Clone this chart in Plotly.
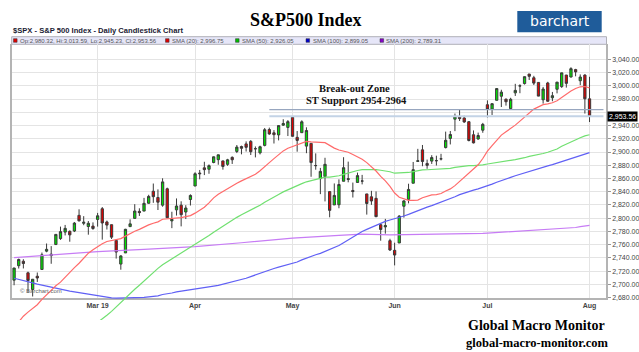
import plotly.graph_objects as go

# ---------------- data ----------------
dates = [
 "2019-02-04","2019-02-05","2019-02-06","2019-02-07","2019-02-08","2019-02-11","2019-02-12","2019-02-13","2019-02-14","2019-02-15",
 "2019-02-19","2019-02-20","2019-02-21","2019-02-22","2019-02-25","2019-02-26","2019-02-27","2019-02-28",
 "2019-03-01","2019-03-04","2019-03-05","2019-03-06","2019-03-07","2019-03-08","2019-03-11","2019-03-12","2019-03-13","2019-03-14",
 "2019-03-15","2019-03-18","2019-03-19","2019-03-20","2019-03-21","2019-03-22","2019-03-25","2019-03-26","2019-03-27","2019-03-28","2019-03-29",
 "2019-04-01","2019-04-02","2019-04-03","2019-04-04","2019-04-05","2019-04-08","2019-04-09","2019-04-10","2019-04-11","2019-04-12",
 "2019-04-15","2019-04-16","2019-04-17","2019-04-18","2019-04-22","2019-04-23","2019-04-24","2019-04-25","2019-04-26","2019-04-29","2019-04-30",
 "2019-05-01","2019-05-02","2019-05-03","2019-05-06","2019-05-07","2019-05-08","2019-05-09","2019-05-10","2019-05-13","2019-05-14",
 "2019-05-15","2019-05-16","2019-05-17","2019-05-20","2019-05-21","2019-05-22","2019-05-23","2019-05-24","2019-05-28","2019-05-29","2019-05-30","2019-05-31",
 "2019-06-03","2019-06-04","2019-06-05","2019-06-06","2019-06-07","2019-06-10","2019-06-11","2019-06-12","2019-06-13","2019-06-14",
 "2019-06-17","2019-06-18","2019-06-19","2019-06-20","2019-06-21","2019-06-24","2019-06-25","2019-06-26","2019-06-27","2019-06-28",
 "2019-07-01","2019-07-02","2019-07-03","2019-07-05","2019-07-08","2019-07-09","2019-07-10","2019-07-11","2019-07-12","2019-07-15",
 "2019-07-16","2019-07-17","2019-07-18","2019-07-19","2019-07-22","2019-07-23","2019-07-24","2019-07-25","2019-07-26","2019-07-29","2019-07-30","2019-07-31",
 "2019-08-01"]

opens = [
 2706.49,2728.34,2735.05,2717.53,2692.36,2712.40,2722.61,2750.30,2743.50,2760.24,2769.28,2779.05,2780.24,2780.67,2804.35,2792.36,2787.50,2788.11,
 2798.22,2814.37,2794.41,2790.27,2766.53,2730.79,2747.61,2787.34,2799.78,2810.38,2810.79,2822.61,2840.76,2831.34,2819.72,2844.52,2796.01,2812.66,2819.72,2809.40,2828.27,
 2848.63,2868.24,2876.09,2873.99,2884.16,2888.46,2886.58,2881.37,2891.92,2900.86,2908.32,2912.26,2916.04,2904.81,2898.78,2909.99,2934.00,2928.99,2925.81,2940.58,2937.14,
 2952.33,2922.16,2929.21,2908.89,2913.03,2879.61,2859.84,2863.10,2840.19,2820.12,2820.38,2855.80,2858.60,2841.94,2854.02,2856.06,2836.70,2832.41,2830.03,2790.25,2786.94,2766.15,
 2751.53,2762.64,2818.09,2828.51,2852.87,2885.83,2903.27,2882.73,2886.24,2886.82,2889.75,2906.71,2920.55,2949.60,2952.71,2951.42,2945.78,2926.07,2919.66,2932.94,
 2971.41,2964.66,2978.08,2984.25,2979.77,2965.52,2989.30,2999.62,3003.36,3017.80,3012.13,3005.10,2978.87,3004.26,2981.93,2994.74,2998.77,3016.26,3013.25,3024.47,3007.66,3016.22,
 2980.32]

highs = [
 2724.99,2738.98,2738.08,2719.32,2708.07,2718.05,2748.19,2761.85,2757.90,2775.66,2787.33,2789.88,2781.58,2794.20,2813.49,2803.12,2795.76,2793.73,
 2808.02,2816.88,2796.44,2790.27,2767.25,2744.13,2784.00,2798.32,2821.24,2815.00,2830.73,2835.41,2852.42,2843.54,2860.31,2846.16,2809.79,2829.87,2825.56,2819.71,2836.03,
 2869.40,2872.90,2885.25,2881.28,2893.24,2895.95,2886.88,2889.71,2893.42,2910.54,2909.60,2916.06,2918.00,2908.40,2909.51,2936.31,2936.83,2933.10,2939.88,2949.52,2948.22,
 2954.13,2931.68,2947.85,2937.32,2913.03,2897.96,2875.97,2891.31,2840.19,2852.54,2858.68,2892.15,2885.48,2853.86,2868.88,2865.47,2836.70,2841.36,2840.51,2792.03,2799.00,2768.98,
 2763.07,2804.49,2827.28,2852.10,2884.97,2904.77,2910.61,2888.57,2895.24,2894.45,2897.27,2930.79,2931.74,2958.06,2964.15,2954.92,2946.52,2932.59,2929.30,2943.98,
 2977.93,2973.21,2995.84,2994.03,2980.76,2981.90,3002.98,3002.33,3013.92,3017.80,3015.02,3005.26,2998.28,3006.02,2990.71,3005.90,3019.59,3016.31,3027.98,3025.61,3017.19,3017.40,
 3013.59]

lows = [
 2698.75,2724.03,2724.15,2687.26,2681.83,2703.79,2722.61,2748.63,2731.23,2760.24,2767.29,2774.06,2764.55,2779.11,2794.99,2789.47,2775.13,2782.51,
 2787.38,2767.66,2782.97,2768.69,2739.09,2722.27,2747.61,2786.73,2799.78,2803.46,2810.79,2821.99,2823.27,2812.43,2817.38,2800.47,2785.02,2803.99,2787.72,2798.77,2819.23,
 2848.63,2858.75,2865.17,2867.14,2882.99,2880.78,2873.33,2879.13,2881.99,2898.37,2896.48,2900.71,2895.45,2891.90,2896.35,2908.53,2926.05,2912.84,2917.56,2939.35,2924.11,
 2923.36,2900.50,2929.21,2898.21,2862.60,2873.28,2836.40,2825.39,2801.43,2820.12,2815.08,2855.80,2854.23,2831.29,2854.02,2851.11,2805.49,2820.19,2801.58,2766.06,2776.74,2750.52,
 2728.81,2762.64,2800.92,2822.45,2852.87,2885.51,2878.53,2874.68,2881.99,2879.62,2887.30,2905.44,2911.43,2931.50,2946.87,2944.05,2916.01,2912.99,2918.57,2929.05,
 2952.22,2955.92,2977.96,2967.97,2970.09,2963.44,2984.62,2988.80,3001.87,3008.77,3001.15,2984.25,2973.09,2975.86,2976.65,2988.56,2996.82,2997.24,3012.59,3014.30,3000.94,2958.08,
 2945.23]

closes = [
 2724.87,2737.70,2731.61,2706.05,2707.88,2709.80,2744.73,2753.03,2745.73,2775.60,2779.76,2784.70,2774.88,2792.67,2796.11,2793.90,2792.38,2784.49,
 2803.69,2792.81,2789.65,2771.45,2748.93,2743.07,2783.30,2791.52,2810.92,2808.48,2822.48,2832.94,2832.57,2824.23,2854.88,2800.71,2798.36,2818.46,2805.37,2815.44,2834.40,
 2867.19,2867.24,2873.40,2879.39,2892.74,2895.77,2878.20,2888.21,2888.32,2907.41,2905.58,2907.06,2900.45,2905.03,2907.97,2933.68,2927.25,2926.17,2939.88,2943.03,2945.83,
 2923.73,2917.52,2945.64,2932.47,2884.05,2879.42,2870.72,2881.40,2811.87,2834.41,2850.96,2876.32,2859.53,2840.23,2864.36,2856.27,2822.24,2826.06,2802.39,2783.02,2788.86,2752.06,
 2744.45,2803.27,2826.15,2843.49,2873.34,2886.73,2885.72,2879.84,2891.64,2886.98,2889.67,2917.75,2926.46,2954.18,2950.46,2945.35,2917.38,2913.78,2924.92,2941.76,
 2964.33,2973.01,2995.82,2990.41,2975.95,2979.63,2993.07,2999.91,3013.77,3014.30,3004.04,2984.42,2995.11,2976.61,2985.03,3005.47,3019.56,3003.67,3025.86,3020.97,3013.18,2980.38,
 2953.56]

sma20 = [
 2634.8,2644.2,2652.1,2658.2,2663.7,2669.4,2677.5,2684.6,2691.1,2698.1,2703.5,2711.1,2717.9,2725.5,2732.0,2739.5,2747.2,2752.3,
 2757.3,2761.6,2764.9,2766.5,2767.4,2769.3,2773.0,2777.1,2780.4,2783.2,2787.0,2789.9,2792.5,2794.5,2798.5,2798.9,2799.0,2800.3,2800.9,2802.5,2804.0,
 2807.7,2811.6,2816.7,2823.2,2830.7,2836.3,2840.7,2844.5,2848.5,2852.8,2856.4,2860.1,2863.9,2866.4,2871.8,2878.6,2884.0,2890.0,2896.3,2901.7,2905.6,
 2908.5,2910.7,2914.0,2916.0,2915.4,2915.4,2914.6,2914.2,2909.4,2905.9,2903.1,2901.9,2899.6,2896.2,2892.7,2889.2,2884.0,2878.3,2871.3,2863.1,2856.4,2848.1,
 2838.1,2831.6,2828.7,2826.9,2827.0,2827.3,2831.0,2833.3,2835.3,2835.8,2837.3,2841.2,2844.3,2849.2,2855.6,2861.6,2867.3,2873.9,2880.7,2890.2,
 2901.2,2909.6,2918.1,2925.5,2930.6,2935.3,2940.6,2946.6,2952.7,2959.1,2964.8,2968.1,2971.6,2972.7,2974.4,2977.4,2982.5,2987.0,2992.1,2996.0,2998.5,2998.9,
 2996.75]

sma50_dates = dates[18:]
sma50 = [
 2642.8,2647.7,2653.4,2659.4,2666.1,2673.9,2680.2,2686.3,2692.8,2698.8,2705.1,2712.8,2718.8,2724.3,2729.9,2734.2,2738.2,2742.7,2747.1,2751.2,2755.6,
 2760.2,2764.2,2769.0,2773.8,2778.8,2783.4,2788.1,2793.1,2797.2,2801.3,2805.3,2808.9,2812.2,2815.6,2819.7,2824.2,2828.5,2832.2,2835.9,2839.8,2843.2,
 2846.1,2848.8,2852.2,2855.0,2856.8,2858.5,2860.0,2862.0,2862.1,2863.0,2864.2,2866.3,2868.5,2870.4,2872.1,2873.4,2873.6,2873.9,2873.5,2872.5,2871.7,2870.2,
 2868.0,2868.1,2868.6,2869.1,2870.5,2871.9,2872.9,2873.2,2873.7,2873.9,2874.1,2874.6,2875.3,2876.8,2878.0,2879.2,2879.4,2879.5,2879.9,2880.7,
 2881.9,2883.2,2884.4,2885.7,2886.7,2887.5,2888.5,2889.6,2891.4,2893.3,2894.5,2895.5,2897.7,2899.7,2902.0,2904.5,2908.6,2912.0,2915.5,2918.4,2921.5,2924.3,
 2926.05]

sma100 = [
 2709.4,2707.9,2706.3,2704.3,2702.3,2700.5,2698.9,2697.4,2695.5,2694.0,2692.6,2691.3,2690.0,2688.8,2687.6,2686.3,2685.0,2683.6,
 2682.6,2681.7,2680.7,2679.6,2679.3,2679.4,2679.6,2680.0,2680.0,2680.0,2680.5,2681.2,2681.9,2682.8,2684.8,2685.7,2687.1,2688.9,2690.1,2691.1,2692.1,
 2693.5,2694.8,2696.0,2696.6,2697.5,2698.6,2700.2,2701.8,2703.7,2705.5,2707.2,2709.3,2711.9,2714.5,2717.2,2719.8,2722.3,2724.1,2726.1,2727.9,2729.5,
 2731.7,2733.9,2737.1,2740.0,2742.5,2744.8,2747.0,2749.8,2752.5,2755.4,2758.8,2762.9,2767.3,2772.2,2776.2,2779.9,2783.2,2786.4,2789.3,2792.7,2795.3,2797.3,
 2799.0,2801.2,2803.4,2805.9,2808.8,2811.6,2814.3,2816.7,2819.0,2821.5,2824.0,2826.7,2829.4,2832.5,2835.6,2838.2,2840.4,2842.4,2844.4,2846.5,
 2848.8,2851.5,2854.3,2857.1,2859.5,2861.7,2864.2,2866.4,2868.8,2871.1,2873.4,2875.3,2877.3,2879.1,2881.0,2883.3,2885.4,2887.5,2889.9,2892.4,2895.0,2897.4,
 2899.05]

sma200_dates = [
 "2019-02-04","2019-02-15","2019-03-01","2019-03-15","2019-04-01","2019-04-15","2019-05-01","2019-05-15","2019-05-22","2019-05-31",
 "2019-06-07","2019-06-17","2019-06-21","2019-06-27","2019-06-28","2019-07-01","2019-07-02","2019-07-03","2019-07-05","2019-07-08",
 "2019-07-09","2019-07-10","2019-07-11","2019-07-12","2019-07-15","2019-07-16","2019-07-17","2019-07-18","2019-07-19","2019-07-22",
 "2019-07-23","2019-07-24","2019-07-25","2019-07-26","2019-07-29","2019-07-30","2019-07-31","2019-08-01"]
sma200 = [
 2740.6,2745.0,2749.5,2753.0,2757.0,2763.0,2770.0,2774.0,2776.0,2775.0,
 2775.3,2775.8,2776.3,2776.9,2777.2,2777.5,2777.9,2778.3,2778.8,2779.2,
 2779.6,2779.8,2780.2,2780.7,2781.2,2781.7,2782.0,2782.4,2782.7,2783.0,
 2783.4,2784.0,2784.6,2785.3,2786.0,2787.2,2788.4,2789.31]

month_ticks = ["2019-03-01", "2019-04-01", "2019-05-01", "2019-06-03", "2019-07-01", "2019-08-01"]
month_labels = ["Mar 19", "Apr", "May", "Jun", "Jul", "Aug"]
y_ticks = [2680, 2700, 2720, 2740, 2760, 2780, 2800, 2820, 2840, 2860, 2880, 2900,
           2920, 2940, 2960, 2980, 3000, 3020, 3040]
y_labels = ["" if v == 2960 else f"{v:,.2f}" for v in y_ticks]

zone_low, zone_high = 2954, 2964
zone_start = "2019-04-24"
last_price = closes[-1]

legend_items = [
    ("Op:2,980.32, Hi:3,013.59, Lo:2,945.23, Cl:2,953.56", "#dd0000", 13.5),
    ("SMA (20): 2,996.75", "#dd0000", 165.5),
    ("SMA (50): 2,926.05", "#00bb00", 235.5),
    ("SMA (100): 2,899.05", "#0000cc", 306.0),
    ("SMA (200): 2,789.31", "#8800cc", 380.0),
]

# ---------------- geometry helpers ----------------
W, H = 639, 352
L, R, T, B = 12, 33, 44, 32
PW, PH = W - L - R, H - T - B
def px(x):
    return (x - L) / PW
def py(y):
    return (H - B - y) / PH

Y_BOTTOM_PX = 297.7
scale = (Y_BOTTOM_PX - 59.3) / 360.0
y_top_val = 2680 + (Y_BOTTOM_PX - T) / scale
y2_bottom_val = 2680 - (H - B - Y_BOTTOM_PX) / scale
x_range = [-0.45, 127.55]

SERIF = "Liberation Serif, Times New Roman, serif"

fig = go.Figure()

fig.add_trace(go.Candlestick(
    x=dates, open=opens, high=highs, low=lows, close=closes,
    increasing=dict(fillcolor="#00e400", line=dict(color="#3a3a3a", width=1)),
    decreasing=dict(fillcolor="#e00000", line=dict(color="#3a3a3a", width=1)),
    whiskerwidth=0, xaxis="x", yaxis="y", showlegend=False, hoverinfo="skip"))

for xs, ys, col in [(sma200_dates, sma200, "#c77cf5"),
                    (dates, sma100, "#6060f5"),
                    (sma50_dates, sma50, "#70e070"),
                    (dates, sma20, "#ff6a6a")]:
    fig.add_trace(go.Scatter(x=xs, y=ys, mode="lines", line=dict(color=col, width=1.2),
                             xaxis="x2", yaxis="y2", showlegend=False, hoverinfo="skip"))

fig.update_layout(
    width=W, height=H, margin=dict(l=L, r=R, t=T, b=B, autoexpand=False),
    paper_bgcolor="white", plot_bgcolor="rgba(0,0,0,0)",
    font=dict(family="Liberation Sans, Arial, sans-serif", color="#333"),
    hovermode=False, showlegend=False,
    xaxis=dict(type="category", categoryarray=dates, categoryorder="array",
               range=x_range, domain=[0, 1], anchor="y", automargin=False,
               tickmode="array", tickvals=month_ticks,
               ticktext=[f"<b>{t}</b>" for t in month_labels],
               tickfont=dict(size=7, color="#444"), ticks="",
               showgrid=True, gridcolor="#e4e4e4", gridwidth=1,
               showline=True, linecolor="#b4b4b4", linewidth=1.5,
               rangeslider=dict(visible=False), fixedrange=True),
    yaxis=dict(domain=[py(Y_BOTTOM_PX), 1], range=[2680, y_top_val], anchor="x",
               side="right", automargin=False,
               tickmode="array", tickvals=y_ticks, ticktext=y_labels,
               tickfont=dict(size=7, color="#444"), ticks="outside", ticklen=3,
               tickcolor="#999", showgrid=True, gridcolor="#e4e4e4", gridwidth=1,
               showline=True, mirror=True, linecolor="#b4b4b4", linewidth=1.5,
               zeroline=False, fixedrange=True),
    xaxis2=dict(type="category", categoryarray=dates, categoryorder="array",
                range=x_range, domain=[0, 1], anchor="y2", visible=False,
                automargin=False, fixedrange=True),
    yaxis2=dict(domain=[0, 1], range=[y2_bottom_val, y_top_val], anchor="x2",
                visible=False, automargin=False, fixedrange=True),
)

shapes = []
# legend bar
shapes.append(dict(type="rect", xref="paper", yref="paper",
                   x0=px(11.7), x1=px(606.5), y0=py(44.3), y1=py(36.7),
                   fillcolor="#e6e6f8", line=dict(color="#b0b0b8", width=1), layer="below"))
for text, col, x0 in legend_items:
    shapes.append(dict(type="rect", xref="paper", yref="paper",
                       x0=px(x0), x1=px(x0 + 3.6), y0=py(42.3), y1=py(38.7),
                       fillcolor=col, line=dict(color="#333", width=0.5)))
# break-out zone lines
shapes.append(dict(type="line", xref="x", yref="y", x0=zone_start, x1=127.0,
                   y0=zone_low, y1=zone_low, line=dict(color="#c3d3e6", width=2.2)))
shapes.append(dict(type="line", xref="x", yref="y", x0=zone_start, x1=127.0,
                   y0=zone_high, y1=zone_high, line=dict(color="#97a6bf", width=1.3)))
# barchart logo
shapes.append(dict(type="rect", xref="paper", yref="paper",
                   x0=px(517.3), x1=px(601.7), y0=py(32.3), y1=py(11),
                   fillcolor="#1f5c9a", line=dict(width=0)))

annotations = []
annotations.append(dict(text="<b>S&P500 Index</b>", xref="paper", yref="paper",
                        x=px(306), y=py(20), xanchor="center", yanchor="middle", showarrow=False,
                        font=dict(family=SERIF, size=18, color="#000")))
annotations.append(dict(text="<b>$SPX - S&P 500 Index - Daily Candlestick Chart</b>", xref="paper", yref="paper",
                        x=px(11), y=py(30.7), xanchor="left", yanchor="middle", showarrow=False,
                        font=dict(size=7.6, color="#1a1a33")))
for text, col, x0 in legend_items:
    annotations.append(dict(text=text, xref="paper", yref="paper",
                            x=px(x0 + 4.5), y=py(40.6), xanchor="left", yanchor="middle",
                            showarrow=False, font=dict(size=6, color="#555")))
annotations.append(dict(text="barchart", xref="paper", yref="paper",
                        x=px(559.5), y=py(21.5), xanchor="center", yanchor="middle", showarrow=False,
                        font=dict(family="DejaVu Sans, sans-serif", size=14, color="white")))
annotations.append(dict(text="<b>Break-out Zone</b>", xref="paper", yref="paper",
                        x=px(354), y=py(88.3), xanchor="center", yanchor="middle", showarrow=False,
                        font=dict(family=SERIF, size=10.5, color="#111")))
annotations.append(dict(text="<b>ST Support 2954-2964</b>", xref="paper", yref="paper",
                        x=px(356), y=py(100.7), xanchor="center", yanchor="middle", showarrow=False,
                        font=dict(family=SERIF, size=10.5, color="#111")))
annotations.append(dict(text="© Barchart.com", xref="paper", yref="paper",
                        x=px(18), y=py(291), xanchor="left", yanchor="middle", showarrow=False,
                        font=dict(size=6, color="#666")))
annotations.append(dict(text=f"{last_price:,.2f}", xref="paper", yref="y",
                        x=px(607.3), y=last_price, xanchor="left", yanchor="middle", showarrow=False,
                        bgcolor="#000", borderpad=1, font=dict(size=7, color="white")))
annotations.append(dict(text="<b>Global Macro Monitor</b>", xref="paper", yref="paper",
                        x=px(536.5), y=py(325), xanchor="center", yanchor="middle", showarrow=False,
                        font=dict(family=SERIF, size=14, color="#000")))
annotations.append(dict(text="<b>global-macro-monitor.com</b>", xref="paper", yref="paper",
                        x=px(537.5), y=py(342.5), xanchor="center", yanchor="middle", showarrow=False,
                        font=dict(family=SERIF, size=12.5, color="#000")))

fig.update_layout(shapes=shapes, annotations=annotations)

fig.write_html("out.html", config={"displayModeBar": False})
